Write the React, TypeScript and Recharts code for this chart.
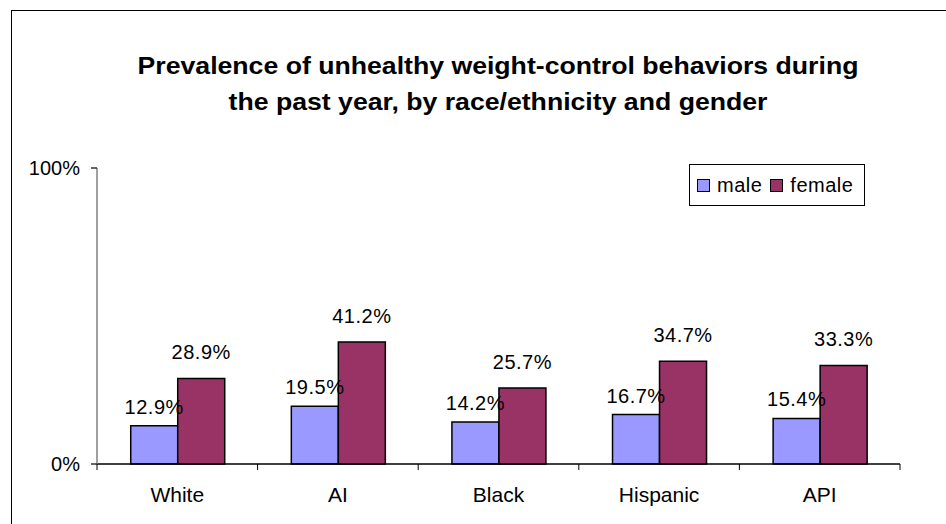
// Grouped bar chart: unhealthy weight-control behaviors by race/ethnicity and gender
import { Bar, BarChart, LabelList, Legend, XAxis, YAxis } from "recharts";

const groups = ["White", "AI", "Black", "Hispanic", "API"];
const maleValues = [12.9, 19.5, 14.2, 16.7, 15.4];
const femaleValues = [28.9, 41.2, 25.7, 34.7, 33.3];
const yTicks = [0, 100];

const data = groups.map((group, i) => ({
  group,
  male: maleValues[i],
  female: femaleValues[i],
}));

const FONT = '"Liberation Sans", Arial, sans-serif';
const MALE_COLOR = "#9999FF";
const FEMALE_COLOR = "#993366";

interface TickProps {
  x?: number;
  y?: number;
  index?: number;
  payload?: { value: string; offset?: number };
}

// Category label plus tick marks on the category boundaries (Excel style)
function GroupTick({ x = 0, y = 0, index = 0, payload }: TickProps) {
  const half = payload?.offset ?? 80;
  return (
    <g>
      <line x1={x - half} y1={y - 6} x2={x - half} y2={y} stroke="#000" strokeWidth={1} />
      {index === groups.length - 1 && (
        <line x1={x + half} y1={y - 6} x2={x + half} y2={y} stroke="#000" strokeWidth={1} />
      )}
      <text x={x} y={y + 32} textAnchor="middle" fontSize={21} fontFamily={FONT} fill="#000">
        {payload?.value}
      </text>
    </g>
  );
}

interface LabelProps {
  x?: number;
  y?: number;
  width?: number;
  value?: number;
}

function makeValueLabel(lift: number) {
  return function ValueLabel({ x = 0, y = 0, width = 0, value }: LabelProps) {
    return (
      <text
        x={x + width / 2}
        y={y - lift}
        textAnchor="middle"
        dominantBaseline="central"
        fontSize={20}
        letterSpacing={0.5}
        fontFamily={FONT}
        fill="#000"
      >
        {`${value}%`}
      </text>
    );
  };
}

const MaleLabel = makeValueLabel(19);
const FemaleLabel = makeValueLabel(26);

function LegendBox() {
  const item = (color: string, text: string) => (
    <span style={{ display: "inline-flex", alignItems: "center", marginRight: 8 }}>
      <span
        style={{
          width: 11,
          height: 11,
          background: color,
          border: "1px solid #000",
          marginRight: 7,
          display: "inline-block",
        }}
      />
      {text}
    </span>
  );
  return (
    <div
      style={{
        width: 176,
        height: 42,
        border: "1px solid #000",
        background: "#fff",
        display: "flex",
        alignItems: "center",
        paddingLeft: 7,
        boxSizing: "border-box",
        fontFamily: FONT,
        fontSize: 20,
        letterSpacing: 0.5,
      }}
    >
      {item(MALE_COLOR, "male")}
      {item(FEMALE_COLOR, "female")}
    </div>
  );
}

export default function App() {
  return (
    <div
      style={{
        position: "fixed",
        left: 0,
        top: 0,
        width: 946,
        height: 524,
        overflow: "hidden",
        background: "#fff",
      }}
    >
      <div
        style={{
          position: "absolute",
          left: 11,
          top: 10,
          width: 1200,
          height: 1200,
          borderLeft: "1.5px solid #000",
          borderTop: "1.5px solid #000",
        }}
      />
      <div
        style={{
          position: "absolute",
          left: 0,
          top: 48,
          width: 996,
          textAlign: "center",
          fontFamily: FONT,
          fontWeight: "bold",
          fontSize: 24,
          lineHeight: "36px",
          transform: "scaleX(1.11)",
          transformOrigin: "498px 0",
        }}
      >
        Prevalence of unhealthy weight-control behaviors during
        <br />
        the past year, by race/ethnicity and gender
      </div>
      <BarChart
        width={946}
        height={524}
        data={data}
        margin={{ top: 168, right: 46, bottom: 0, left: 0 }}
        barCategoryGap="21%"
        barGap={0}
        style={{ position: "absolute", left: 0, top: 0 }}
      >
        <XAxis
          dataKey="group"
          axisLine={{ stroke: "#000", strokeWidth: 1.5 }}
          tickLine={false}
          tickSize={6}
          tickMargin={0}
          height={60}
          interval={0}
          tick={<GroupTick />}
        />
        <YAxis
          domain={[0, 100]}
          ticks={yTicks}
          width={97}
          axisLine={{ stroke: "#808080", strokeWidth: 1.5 }}
          tickLine={{ stroke: "#333", strokeWidth: 1.5 }}
          tickSize={6}
          tickMargin={11}
          tickFormatter={(v: number) => `${v}%`}
          tick={{ fontSize: 20, fontFamily: FONT, fill: "#000" }}
        />
        <Legend
          layout="horizontal"
          verticalAlign="middle"
          content={<LegendBox />}
          wrapperStyle={{ position: "absolute", left: 689, top: 164, width: "auto" }}
        />
        <Bar dataKey="male" fill={MALE_COLOR} stroke="#000" strokeWidth={1.5} isAnimationActive={false}>
          <LabelList dataKey="male" content={<MaleLabel />} />
        </Bar>
        <Bar dataKey="female" fill={FEMALE_COLOR} stroke="#000" strokeWidth={1.5} isAnimationActive={false}>
          <LabelList dataKey="female" content={<FemaleLabel />} />
        </Bar>
      </BarChart>
    </div>
  );
}
